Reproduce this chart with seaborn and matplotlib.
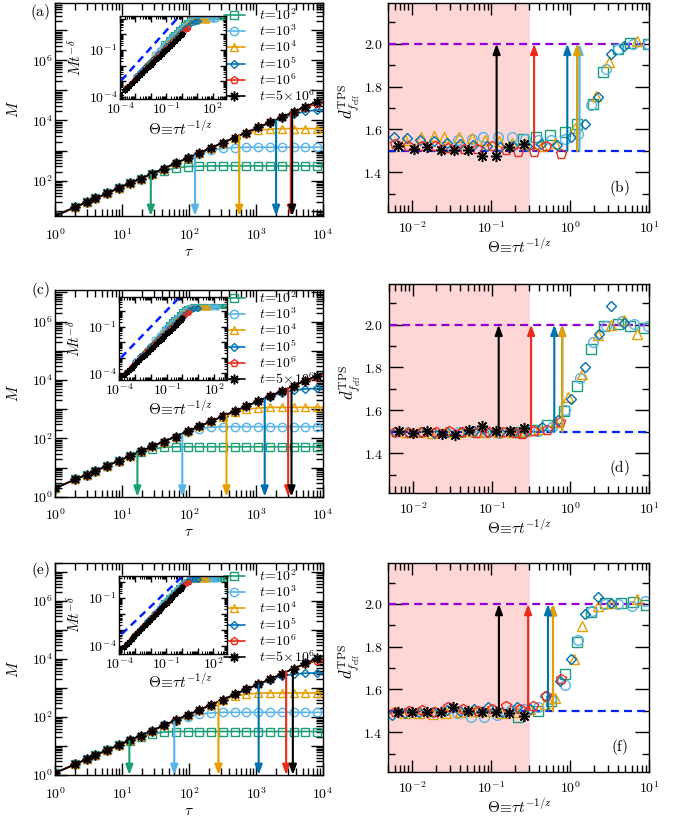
import numpy as np
import matplotlib
matplotlib.use("Agg")
import matplotlib.pyplot as plt
from matplotlib.ticker import LogLocator, FuncFormatter, NullFormatter, MultipleLocator
import seaborn as sns

W, H = 683, 817

# waiting times and sampled tau values (shared by the left panels)
t_values = [1e2, 1e3, 1e4, 1e5, 1e6, 5e6]
t_labels = [r'$t\!=\!10^2$', r'$t\!=\!10^3$', r'$t\!=\!10^4$',
            r'$t\!=\!10^5$', r'$t\!=\!10^6$', r'$t\!=\!5\!\times\!10^6$']
tau = [1, 2, 3, 4, 6, 9, 13, 19, 28, 42, 63, 95, 142, 213, 320, 480, 720,
       1080, 1620, 2430, 3650, 5470, 8200, 10000]

# panel (a): log10 M at each tau
a_t2 = [0.83, 1.12, 1.29, 1.41, 1.58, 1.76, 1.91, 2.07, 2.21, 2.33, 2.42, 2.47, 2.48,
        2.49, 2.49, 2.49, 2.49, 2.49, 2.49, 2.49, 2.49, 2.49, 2.49, 2.49]
a_t3 = [0.83, 1.12, 1.29, 1.41, 1.58, 1.76, 1.91, 2.07, 2.23, 2.40, 2.58, 2.74, 2.89,
        3.01, 3.07, 3.10, 3.11, 3.11, 3.11, 3.11, 3.11, 3.11, 3.11, 3.11]
a_t4 = [0.83, 1.12, 1.29, 1.41, 1.58, 1.76, 1.91, 2.07, 2.23, 2.40, 2.58, 2.75, 2.92,
        3.09, 3.26, 3.43, 3.57, 3.67, 3.71, 3.73, 3.73, 3.73, 3.73, 3.73]
a_t5 = [0.83, 1.12, 1.29, 1.41, 1.58, 1.76, 1.91, 2.07, 2.23, 2.40, 2.58, 2.75, 2.92,
        3.09, 3.26, 3.43, 3.60, 3.77, 3.93, 4.07, 4.21, 4.30, 4.35, 4.36]
a_t6 = [0.83, 1.12, 1.29, 1.41, 1.58, 1.76, 1.91, 2.07, 2.23, 2.40, 2.58, 2.75, 2.92,
        3.09, 3.26, 3.43, 3.60, 3.77, 3.94, 4.11, 4.28, 4.43, 4.56, 4.61]
a_t56 = [0.83, 1.12, 1.29, 1.41, 1.58, 1.76, 1.91, 2.07, 2.23, 2.40, 2.58, 2.75, 2.92,
         3.09, 3.26, 3.43, 3.60, 3.77, 3.94, 4.11, 4.29, 4.46, 4.63, 4.71]
a_arrows = [1.43, 2.09, 2.75, 3.30, 3.52, 3.54]   # log10 tau of the down arrows

# panel (c)
c_t2 = [0.29, 0.59, 0.76, 0.88, 1.06, 1.23, 1.39, 1.53, 1.63, 1.69, 1.71, 1.71, 1.71,
        1.71, 1.71, 1.71, 1.71, 1.71, 1.71, 1.71, 1.71, 1.71, 1.71, 1.71]
c_t3 = [0.29, 0.59, 0.76, 0.88, 1.06, 1.23, 1.39, 1.55, 1.72, 1.89, 2.04, 2.20, 2.32,
        2.38, 2.40, 2.40, 2.40, 2.40, 2.40, 2.40, 2.40, 2.40, 2.40, 2.40]
c_t4 = [0.29, 0.59, 0.76, 0.88, 1.06, 1.23, 1.39, 1.55, 1.72, 1.89, 2.06, 2.24, 2.41,
        2.58, 2.74, 2.89, 2.99, 3.04, 3.06, 3.06, 3.06, 3.06, 3.06, 3.06]
c_t5 = [0.29, 0.59, 0.76, 0.88, 1.06, 1.23, 1.39, 1.55, 1.72, 1.89, 2.06, 2.24, 2.41,
        2.58, 2.76, 2.93, 3.10, 3.27, 3.42, 3.56, 3.65, 3.69, 3.71, 3.71]
c_t6 = [0.29, 0.59, 0.76, 0.88, 1.06, 1.23, 1.39, 1.55, 1.72, 1.89, 2.06, 2.24, 2.41,
        2.58, 2.76, 2.93, 3.10, 3.28, 3.45, 3.62, 3.80, 3.95, 4.10, 4.16]
c_t56 = [0.29, 0.59, 0.76, 0.88, 1.06, 1.23, 1.39, 1.55, 1.72, 1.89, 2.06, 2.24, 2.41,
         2.58, 2.76, 2.93, 3.10, 3.28, 3.45, 3.62, 3.80, 3.97, 4.15, 4.23]
c_arrows = [1.23, 1.90, 2.56, 3.13, 3.48, 3.53]

# panel (e)
e_t2 = [0.07, 0.37, 0.55, 0.68, 0.86, 1.03, 1.18, 1.32, 1.43, 1.48, 1.50, 1.50, 1.50,
        1.50, 1.50, 1.50, 1.50, 1.50, 1.50, 1.50, 1.50, 1.50, 1.50, 1.50]
e_t3 = [0.07, 0.37, 0.55, 0.68, 0.86, 1.03, 1.20, 1.36, 1.53, 1.71, 1.86, 2.00, 2.10,
        2.14, 2.16, 2.16, 2.16, 2.16, 2.16, 2.16, 2.16, 2.16, 2.16, 2.16]
e_t4 = [0.07, 0.37, 0.55, 0.68, 0.86, 1.03, 1.20, 1.36, 1.53, 1.71, 1.89, 2.07, 2.24,
        2.42, 2.58, 2.71, 2.79, 2.82, 2.83, 2.83, 2.83, 2.83, 2.83, 2.83]
e_t5 = [0.07, 0.37, 0.55, 0.68, 0.86, 1.03, 1.20, 1.36, 1.53, 1.71, 1.89, 2.07, 2.24,
        2.42, 2.60, 2.78, 2.96, 3.12, 3.28, 3.41, 3.48, 3.51, 3.52, 3.52]
e_t6 = [0.07, 0.37, 0.55, 0.68, 0.86, 1.03, 1.20, 1.36, 1.53, 1.71, 1.89, 2.07, 2.24,
        2.42, 2.60, 2.78, 2.96, 3.13, 3.31, 3.49, 3.67, 3.83, 3.93, 3.96]
e_t56 = [0.07, 0.37, 0.55, 0.68, 0.86, 1.03, 1.20, 1.36, 1.53, 1.71, 1.89, 2.07, 2.24,
         2.42, 2.60, 2.78, 2.96, 3.13, 3.31, 3.49, 3.67, 3.85, 4.02, 4.11]
e_arrows = [1.11, 1.78, 2.44, 3.04, 3.45, 3.55]

# scaling exponents used by the insets, and guide line (prefactor, slope)
inv_z = 0.597
a_delta, c_delta, e_delta = 0.70, 0.70, 0.66
a_guide = (10 ** 1.36, 1.10)
c_guide = (10 ** 1.10, 1.05)
e_guide = (10 ** 0.35, 0.94)

# right panels: log10 Theta and effective dimension per series
b_x_t2 = [-0.60, -0.427, -0.25, -0.07, 0.084, 0.286, 0.417, 0.60, 0.761, 0.979]
b_d_t2 = [1.556, 1.567, 1.576, 1.587, 1.624, 1.718, 1.868, 1.975, 2.003, 2.000]
b_x_t3 = [-1.414, -1.246, -1.10, -0.91, -0.742, -0.575, -0.407, -0.24, -0.06, 0.10,
          0.265, 0.454, 0.609, 0.80, 0.987]
b_d_t3 = [1.550, 1.555, 1.567, 1.567, 1.564, 1.556, 1.551, 1.553, 1.555, 1.580,
          1.714, 1.884, 1.977, 2.000, 2.000]
b_x_t4 = [-2.086, -1.884, -1.729, -1.595, -1.402, -1.246, -1.078, -0.902, -0.742,
          -0.575, -0.357, -0.197, 0.055, 0.332, 0.496, 0.844]
b_d_t4 = [1.552, 1.563, 1.570, 1.567, 1.567, 1.559, 1.552, 1.547, 1.536, 1.533,
          1.521, 1.539, 1.606, 1.756, 1.913, 2.011]
b_x_t5 = [-2.233, -2.065, -1.897, -1.729, -1.561, -1.393, -1.225, -1.057, -0.889,
          -0.721, -0.553, -0.364, -0.17, 0.005, 0.181, 0.357, 0.517, 0.685]
b_d_t5 = [1.567, 1.562, 1.553, 1.545, 1.537, 1.530, 1.526, 1.522, 1.520, 1.524,
          1.522, 1.532, 1.528, 1.564, 1.624, 1.752, 1.954, 1.990]
b_x_t6 = [-2.220, -2.052, -1.876, -1.708, -1.540, -1.338, -1.174, -0.994, -0.813,
          -0.658, -0.461, -0.302, -0.121]
b_d_t6 = [1.533, 1.524, 1.521, 1.521, 1.513, 1.510, 1.510, 1.521, 1.502, 1.493,
          1.493, 1.521, 1.487]
b_x_t56 = [-2.178, -1.981, -1.813, -1.632, -1.464, -1.288, -1.120, -0.940, -0.772, -0.583]
b_d_t56 = [1.521, 1.510, 1.518, 1.502, 1.505, 1.502, 1.477, 1.477, 1.518, 1.533]
b_arrows = [0.089, 0.118, 0.089, -0.037, -0.457, -0.931]

d_x_t2 = [-0.64, -0.47, -0.30, -0.079, 0.085, 0.257, 0.425, 0.601, 0.760, 0.936]
d_d_t2 = [1.500, 1.506, 1.530, 1.596, 1.713, 1.886, 1.995, 2.005, 1.995, 1.984]
d_x_t3 = [-1.41, -1.25, -1.08, -0.91, -0.74, -0.575, -0.41, -0.24, -0.07, 0.118,
          0.286, 0.454, 0.651, 0.810, 0.987]
d_d_t3 = [1.497, 1.500, 1.500, 1.495, 1.500, 1.500, 1.505, 1.520, 1.600, 1.750,
          1.917, 1.992, 2.016, 2.003, 1.992]
d_x_t4 = [-2.09, -1.92, -1.75, -1.58, -1.40, -1.25, -1.08, -0.90, -0.74, -0.575,
          -0.40, -0.20, -0.03, 0.148, 0.349, 0.517, 0.676, 0.844]
d_d_t4 = [1.497, 1.500, 1.495, 1.500, 1.498, 1.502, 1.500, 1.497, 1.500, 1.505,
          1.512, 1.546, 1.663, 1.770, 1.953, 2.000, 2.023, 1.956]
d_x_t5 = [-2.23, -2.06, -1.90, -1.73, -1.56, -1.39, -1.22, -1.06, -0.89, -0.72,
          -0.55, -0.36, -0.155, 0.013, 0.190, 0.357, 0.517, 0.685]
d_d_t5 = [1.500, 1.498, 1.500, 1.495, 1.497, 1.500, 1.502, 1.500, 1.498, 1.500,
          1.505, 1.520, 1.553, 1.655, 1.800, 1.958, 2.089, 2.008]
d_x_t6 = [-2.22, -2.05, -1.88, -1.71, -1.54, -1.37, -1.20, -1.03, -0.86, -0.69,
          -0.62, -0.46, -0.30, -0.134]
d_d_t6 = [1.500, 1.495, 1.500, 1.498, 1.502, 1.497, 1.492, 1.497, 1.500, 1.495,
          1.488, 1.505, 1.510, 1.546]
d_x_t56 = [-2.178, -2.002, -1.813, -1.632, -1.464, -1.288, -1.120, -0.940, -0.772, -0.583]
d_d_t56 = [1.502, 1.496, 1.503, 1.491, 1.486, 1.510, 1.525, 1.503, 1.503, 1.519]
d_arrows = [-0.105, -0.105, -0.105, -0.205, -0.499, -0.910]

f_x_t2 = [-0.658, -0.406, -0.247, -0.071, 0.089, 0.265, 0.441, 0.643, 0.789, 0.957]
f_d_t2 = [1.470, 1.500, 1.547, 1.671, 1.821, 1.964, 2.003, 2.003, 2.011, 1.995]
f_x_t3 = [-1.43, -1.26, -1.09, -0.92, -0.75, -0.58, -0.41, -0.24, -0.07, 0.10,
          0.27, 0.44, 0.61, 0.78, 0.95]
f_d_t3 = [1.490, 1.470, 1.470, 1.480, 1.505, 1.510, 1.520, 1.555, 1.620, 1.830,
          1.965, 2.000, 1.998, 1.990, 2.015]
f_x_t4 = [-2.09, -1.918, -1.742, -1.57, -1.393, -1.22, -1.036, -0.868, -0.679,
          -0.512, -0.323, -0.197, 0.047, 0.148, 0.349, 0.517, 0.844]
f_d_t4 = [1.490, 1.488, 1.485, 1.490, 1.495, 1.500, 1.497, 1.490, 1.492, 1.508,
          1.530, 1.560, 1.740, 1.898, 1.990, 2.006, 2.022]
f_x_t5 = [-2.254, -2.086, -1.910, -1.742, -1.561, -1.393, -1.212, -1.036, -0.868,
          -0.679, -0.512, -0.323, -0.134, 0.013, 0.181, 0.357, 0.517]
f_d_t5 = [1.480, 1.490, 1.496, 1.496, 1.505, 1.501, 1.508, 1.516, 1.493, 1.516,
          1.508, 1.570, 1.640, 1.740, 1.954, 2.034, 2.006]
f_x_t6 = [-2.220, -2.044, -1.876, -1.708, -1.540, -1.351, -1.162, -0.994, -0.818,
          -0.637, -0.470, -0.302, -0.121]
f_d_t6 = [1.493, 1.501, 1.505, 1.496, 1.516, 1.508, 1.501, 1.508, 1.524, 1.508,
          1.524, 1.570, 1.647]
f_x_t56 = [-2.178, -2.002, -1.813, -1.632, -1.477, -1.288, -1.120, -0.940, -0.772, -0.583]
f_d_t56 = [1.496, 1.496, 1.496, 1.493, 1.519, 1.501, 1.496, 1.496, 1.490, 1.474]
f_arrows = [-0.218, -0.218, -0.218, -0.281, -0.533, -0.902]

shade_edge = 0.308
d_low, d_high = 1.5, 2.0

colors = ['#1A9E77', '#56B4E9', '#E69F00', '#0072B2', '#EE2A1B', 'black']
# last marker: 8-armed asterisk like the reference
markers = ['s', 'o', '^', 'D', 'p', (8, 2, 0)]
main_ms = [5.5, 6.0, 6.0, 4.5, 6.0, 7.0]
right_ms = [6.5, 7.0, 7.0, 5.5, 7.0, 8.0]
inset_ms = [3.5, 3.5, 3.5, 3.0, 3.5, 4.5]

sns.set_theme(style='ticks')
plt.rcParams.update({
    'font.family': ['DejaVu Serif'],
    'mathtext.fontset': 'cm',
    'font.size': 10,
    'axes.edgecolor': 'black', 'axes.labelcolor': 'black', 'text.color': 'black',
    'xtick.color': 'black', 'ytick.color': 'black',
    'axes.linewidth': 1.0,
    'xtick.direction': 'in', 'ytick.direction': 'in',
    'xtick.top': True, 'ytick.right': True,
    'xtick.labelsize': 10, 'ytick.labelsize': 10,
    'axes.labelsize': 10, 'legend.fontsize': 10,
    'axes.grid': False,
})


def px_rect(x0, y0, x1, y1):
    return [x0 / W, 1 - y1 / H, (x1 - x0) / W, (y1 - y0) / H]


def style_log_axis(axis, keep):
    def fmt(v, pos):
        e = int(round(np.log10(v)))
        return r'$10^{%d}$' % e if keep(e) else ''
    axis.set_major_locator(LogLocator(base=10, numticks=100))
    axis.set_minor_locator(LogLocator(base=10, subs=np.arange(2, 10), numticks=100))
    axis.set_major_formatter(FuncFormatter(fmt))
    axis.set_minor_formatter(NullFormatter())


def arrow(ax, x, y_from, y_to, color):
    ax.annotate('', xy=(x, y_to), xytext=(x, y_from), annotation_clip=False,
                arrowprops=dict(arrowstyle='-|>,head_length=0.6,head_width=0.22',
                                color=color, lw=1.5, shrinkA=0, shrinkB=0),
                zorder=4)


def marker_kw(i, ms, mew):
    c = colors[i]
    if i == 5:
        return dict(marker=markers[i], markersize=ms, markeredgecolor=c,
                    markerfacecolor=c, markeredgewidth=mew * 1.1)
    return dict(marker=markers[i], markersize=ms, markeredgecolor=c,
                markerfacecolor='none', markeredgewidth=mew)


def draw_left(fig, box, inset_box, curves, arrows, ylim, delta, guide, inset_ylim,
              legend_xy, tag_xy, tag):
    ax = fig.add_axes(px_rect(*box))
    ax.set_xscale('log')
    ax.set_yscale('log')
    log_tau = np.log10(tau)
    for i in range(6):
        sns.lineplot(x=tau, y=10 ** np.array(curves[i]), ax=ax, color=colors[i], lw=1.2,
                     markevery=slice(0, len(tau) - 1), estimator=None, errorbar=None,
                     label=t_labels[i], zorder=2 + 0.1 * i, **marker_kw(i, main_ms[i], 1.0))
    for i in range(6):
        top = 10 ** np.interp(arrows[i], log_tau, curves[i])
        arrow(ax, 10 ** arrows[i], top, ylim[0], colors[i])
    ax.set_xlim(1, 1e4)
    ax.set_ylim(*ylim)
    style_log_axis(ax.xaxis, lambda e: True)
    style_log_axis(ax.yaxis, lambda e: e % 2 == 0)
    ax.tick_params(which='major', length=8.5, width=1)
    ax.tick_params(which='minor', length=5, width=1)
    ax.tick_params(axis='x', which='major', pad=8)
    ax.tick_params(axis='y', which='major', pad=1.5)
    ax.set_xlabel(r'$\tau$', fontsize=11)
    ax.set_ylabel(r'$M$', fontsize=11)
    ax.xaxis.set_label_coords(0.5, -0.135)
    ax.yaxis.set_label_coords(-0.128, 0.5)
    ax.legend(loc='upper left', bbox_to_anchor=(legend_xy[0] / W, 1 - legend_xy[1] / H),
              bbox_transform=fig.transFigure, frameon=False, fontsize=10,
              handlelength=1.5, handletextpad=1.0, labelspacing=0.04,
              borderpad=0, borderaxespad=0)
    fig.text(tag_xy[0] / W, 1 - tag_xy[1] / H, r'$\mathrm{%s}$' % tag,
             ha='center', va='center', fontsize=11)

    ins = fig.add_axes(px_rect(*inset_box))
    ins.set_facecolor('white')
    ins.set_xscale('log')
    ins.set_yscale('log')
    tau_arr = np.array(tau, dtype=float)
    for i in range(6):
        t = t_values[i]
        sns.lineplot(x=tau_arr * t ** (-inv_z), y=10 ** np.array(curves[i]) * t ** (-delta),
                     ax=ins, color=colors[i], lw=1.0, estimator=None, errorbar=None,
                     zorder=2 + 0.1 * i, **marker_kw(i, inset_ms[i], 0.8))
    gx = np.array([1e-5, 1e2])
    ins.plot(gx, guide[0] * gx ** guide[1], color='#0022FF', ls=(0, (3, 2)), lw=1.8, zorder=1.5)
    ins.set_xlim(1e-4, 700)
    ins.set_ylim(*inset_ylim)
    style_log_axis(ins.xaxis, lambda e: (e + 4) % 3 == 0)
    style_log_axis(ins.yaxis, lambda e: (e + 4) % 3 == 0)
    ins.tick_params(which='major', length=4.5, width=1)
    ins.tick_params(which='minor', length=2.5, width=0.8)
    ins.tick_params(axis='x', which='major', pad=1.5)
    ins.tick_params(axis='y', which='major', pad=2)
    ins.set_xlabel(r'$\Theta\!\equiv\!\tau t^{-1/z}$', fontsize=11)
    ins.set_ylabel(r'$Mt^{-\delta}$', fontsize=11)
    ins.xaxis.set_label_coords(0.566, -0.24)
    ins.yaxis.set_label_coords(-0.33, 0.506)


def draw_right(fig, box, xs, ds, arrows, tag):
    ax = fig.add_axes(px_rect(*box))
    ax.set_xscale('log')
    ax.axvspan(1e-3, shade_edge, color='#FFD6D6', lw=0, zorder=0)
    ax.axhline(d_low, color='#0022FF', ls=(0, (3.6, 2.3)), lw=1.6, zorder=1.5)
    ax.axhline(d_high, color='#9400D3', ls=(0, (3.6, 2.3)), lw=1.6, zorder=1.5)
    for i in range(6):
        sns.lineplot(x=10 ** np.array(xs[i]), y=ds[i], ax=ax, color=colors[i],
                     linestyle='none', estimator=None, errorbar=None,
                     zorder=2 + 0.1 * i, **marker_kw(i, right_ms[i], 1.0))
    for i in range(6):
        arrow(ax, 10 ** arrows[i], d_low, d_high, colors[i])
    ax.set_xlim(5e-3, 10)
    ax.set_ylim(1.215, 2.19)
    style_log_axis(ax.xaxis, lambda e: True)
    ax.yaxis.set_major_locator(MultipleLocator(0.2))
    ax.yaxis.set_minor_locator(MultipleLocator(0.1))
    ax.yaxis.set_major_formatter(FuncFormatter(lambda v, p: r'$%.1f$' % v))
    ax.tick_params(which='major', length=8.5, width=1)
    ax.tick_params(which='minor', length=5, width=1)
    ax.tick_params(axis='y', which='major', length=10, pad=4)
    ax.tick_params(axis='x', which='major', pad=6)
    ax.set_xlabel(r'$\Theta\!\equiv\!\tau t^{-1/z}$', fontsize=11)
    ax.set_ylabel(r'$d^{\rm TPS}_{f_{\rm eff}}$', fontsize=12)
    ax.xaxis.set_label_coords(0.5, -0.124)
    ax.yaxis.set_label_coords(-0.105, 0.53)
    ax.text(0.885, 0.117, r'$\mathrm{%s}$' % tag, transform=ax.transAxes,
            ha='center', va='center', fontsize=11)


fig = plt.figure(figsize=(W / 100, H / 100), dpi=100)

draw_left(fig, (55, 3, 323, 216), (120, 15.7, 226, 99.3),
          [a_t2, a_t3, a_t4, a_t5, a_t6, a_t56], a_arrows, (6.7, 8e7),
          a_delta, a_guide, (7e-5, 16), (224, 7), (40.5, 11.5), '(a)')
draw_left(fig, (55, 290, 323, 496.7), (119.3, 297.3, 227.3, 380),
          [c_t2, c_t3, c_t4, c_t5, c_t6, c_t56], c_arrows, (1, 1.2e7),
          c_delta, c_guide, (3.7e-5, 8), (224, 290), (40.5, 290), '(c)')
draw_left(fig, (55, 563.3, 323, 775), (119.3, 576, 226.7, 654),
          [e_t2, e_t3, e_t4, e_t5, e_t6, e_t56], e_arrows, (1, 2e7),
          e_delta, e_guide, (3e-5, 2.5), (224, 568), (40.5, 570), '(e)')

draw_right(fig, (388.3, 3, 649.3, 212),
           [b_x_t2, b_x_t3, b_x_t4, b_x_t5, b_x_t6, b_x_t56],
           [b_d_t2, b_d_t3, b_d_t4, b_d_t5, b_d_t6, b_d_t56], b_arrows, '(b)')
draw_right(fig, (389, 284, 649.3, 492.7),
           [d_x_t2, d_x_t3, d_x_t4, d_x_t5, d_x_t6, d_x_t56],
           [d_d_t2, d_d_t3, d_d_t4, d_d_t5, d_d_t6, d_d_t56], d_arrows, '(d)')
draw_right(fig, (388.3, 563.3, 649.3, 771.7),
           [f_x_t2, f_x_t3, f_x_t4, f_x_t5, f_x_t6, f_x_t56],
           [f_d_t2, f_d_t3, f_d_t4, f_d_t5, f_d_t6, f_d_t56], f_arrows, '(f)')

fig.savefig('out.png', dpi=100)
